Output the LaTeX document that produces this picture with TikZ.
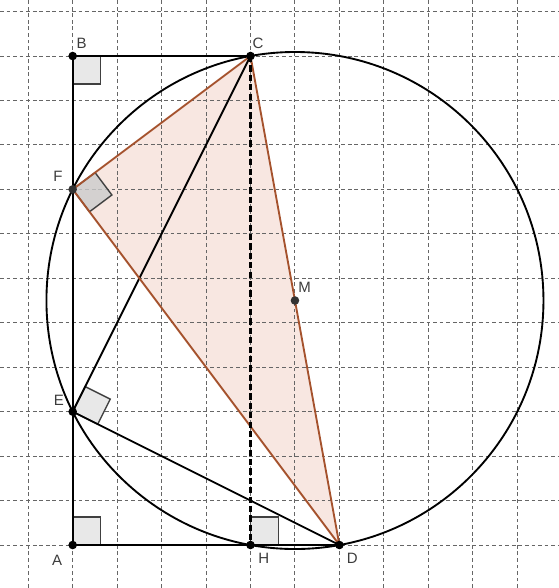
\documentclass[tikz,border=0pt]{standalone}
\usepackage{fontspec}
\setmainfont{Liberation Sans}
\definecolor{triedge}{RGB}{165,82,45}
\definecolor{trifill}{RGB}{248,231,225}
\definecolor{labgray}{RGB}{60,60,60}
\tikzset{
  gridline/.style={black!60,line width=0.65pt,dash pattern=on 2.4pt off 1.8pt},
  seg/.style={line width=1.2pt,black},
  brown/.style={line width=1.2pt,triedge},
  rmark/.style={draw=black!75,fill=gray!18,line width=0.9pt},
  pt/.style={circle,fill=black,inner sep=0pt,minimum size=5.5pt},
  lab/.style={font=\fontsize{9.6}{11}\selectfont,text=labgray,inner sep=0pt}
}
\begin{document}
\begin{tikzpicture}
\useasboundingbox (-1.635,-0.967) rectangle (10.92,12.26);
\coordinate (A) at (0,0);
\coordinate (B) at (0,11);
\coordinate (C) at (4,11);
\coordinate (D) at (6,0);
\coordinate (H) at (4,0);
\coordinate (E) at (0,3);
\coordinate (F) at (0,8);
\coordinate (M) at (5,5.5);
% shaded triangle
\fill[trifill] (C) -- (F) -- (D) -- cycle;
% grid
\draw[gridline] (-1.635,-0.967) grid (10.92,12.26);
% right angles
\draw[rmark] (B) rectangle +(0.63,-0.63);
\draw[rmark] (A) rectangle +(0.63,0.63);
\draw[rmark] (H) rectangle +(0.63,0.63);
\draw[rmark,fill=gray!40,fill opacity=0.8] (F) -- +(0.504,0.378) -- +(0.882,-0.126) -- +(0.378,-0.504) -- cycle;
\draw[rmark] (E) -- +(0.282,0.563) -- +(0.845,0.282) -- +(0.563,-0.282) -- cycle;
% figure
\draw[seg] (A) -- (B) -- (C);
\draw[seg] (A) -- (D);
\draw[seg] (E) -- (C);
\draw[seg] (E) -- (D);
\draw[seg] (M) circle [radius={sqrt(31.25)}];
\draw[brown] (C) -- (F) -- (D) -- cycle;
\draw[line width=1.3pt,dash pattern=on 4pt off 2pt] (C) -- (H);
% points
\foreach \p in {A,B,C,D,H,E}
  \node[pt] (p\p) at (\p) {};
\node[pt,fill=black!80] (pF) at (F) {};
\node[pt,fill=black!80] (pM) at (M) {};
% labels
\node[lab] (lA) at (-0.35,-0.34) {A};
\node[lab] (lB) at (0.2,11.28) {B};
\node[lab] (lC) at (4.17,11.28) {C};
\node[lab] (lD) at (6.29,-0.3) {D};
\node[lab] (lE) at (-0.31,3.26) {E};
\node[lab] (lF) at (-0.33,8.3) {F};
\node[lab] (lH) at (4.3,-0.3) {H};
\node[lab] (lM) at (5.22,5.8) {M};
\end{tikzpicture}
\end{document}
